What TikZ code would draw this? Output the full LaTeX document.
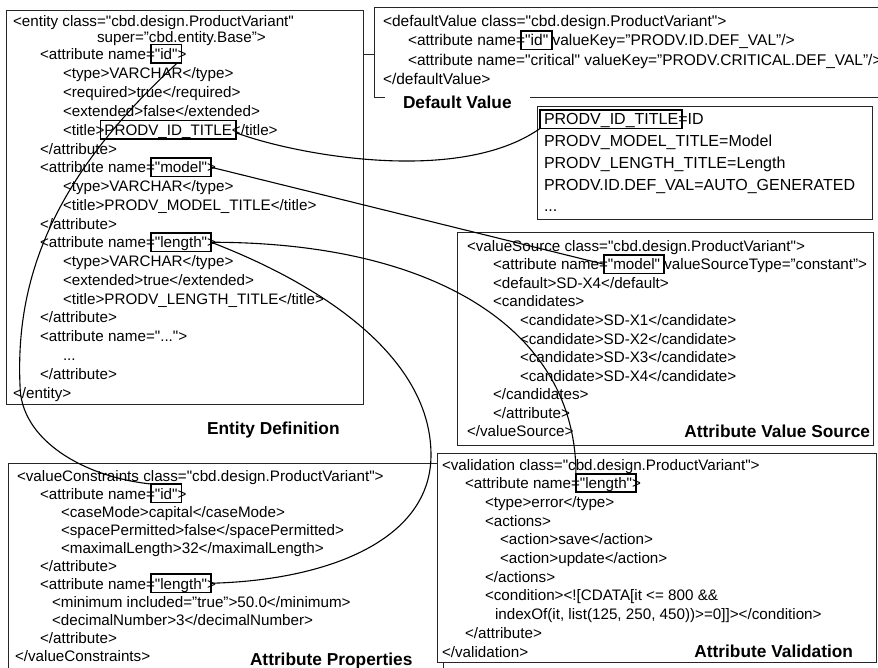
\documentclass[tikz,border=0pt]{standalone}
\usepackage{fontspec}
\newfontfamily\codefam{Liberation Sans}
\newcommand\codefont{\codefam\fontsize{15.2}{18}\selectfont}
\newcommand\dfltfont{\codefam\fontsize{15.5}{18}\selectfont}
\newcommand\keyfont{\codefam\fontsize{16}{20}\selectfont}
\newcommand\capfont{\codefam\bfseries\fontsize{17.3}{20}\selectfont}

\begin{document}
\begin{tikzpicture}[x=1pt, y=-1pt,
  txt/.style={anchor=base west, inner sep=0pt, outer sep=0pt, font=\codefont},
  hl/.style={draw, line width=1.8pt, anchor=base west, inner xsep=4pt, inner ysep=1.5pt,
             text height=13.5pt, text depth=2pt, outer sep=0pt, xshift=-4pt, font=\codefont},
  after/.style={txt, xshift=-4pt},
  panel/.style={draw=black!85, line width=0.9pt, inner sep=0pt, outer sep=0pt, anchor=north west},
  caption/.style={font=\capfont, inner sep=0pt, outer sep=0pt},
  link/.style={line width=1.1pt}]
\useasboundingbox (0,0) rectangle (878,668);
\clip (0,0) rectangle (878,668);

% ---------- panels ----------
\node[panel, minimum width=357pt, minimum height=394pt] (entity) at (6,10) {};
\node[panel, minimum width=540pt, minimum height=90pt] (dflt) at (374,7) {};
\node[panel, minimum width=335pt, minimum height=113pt] (keys) at (537,106) {};
\node[panel, minimum width=416pt, minimum height=213pt] (vsrc) at (457,232) {};
\node[panel, minimum width=435pt, minimum height=250pt] (cons) at (8,463) {};
\node[panel, fill=white, minimum width=439pt, minimum height=209pt] (valid) at (437,453) {};

\coordinate (stub) at (0,54);
\draw[panel] (entity.east |- stub) -- (dflt.west |- stub);

% ---------- entity definition ----------
\node[txt] (e1) at (13,27) {<entity class="cbd.design.ProductVariant"};
\node[txt] (e2) at (97,43) {super=”cbd.entity.Base”>};
\node[txt] (e3) at (40,59.5) {<attribute name=};
\node[hl] (eid) at (e3.base east) {"id"};
\node[after] (e3b) at (eid.base east) {>};
\node[txt] (e4) at (63,78.5) {<type>VARCHAR</type>};
\node[txt] (e5) at (63,97.5) {<required>true</required>};
\node[txt] (e6) at (63,116.5) {<extended>false</extended>};
\node[txt] (e7) at (63,135.5) {<title>};
\node[hl] (et) at (e7.base east) {PRODV\_ID\_TITLE};
\node[after] (e7b) at (et.base east) {</title>};
\node[txt] (e8) at (40,154.25) {</attribute>};
\node[txt] (e9) at (40,173) {<attribute name=};
\node[hl] (emdl) at (e9.base east) {"model"};
\node[after] (e9b) at (emdl.base east) {>};
\node[txt] (e10) at (63,191.75) {<type>VARCHAR</type>};
\node[txt] (e11) at (63,210.5) {<title>PRODV\_MODEL\_TITLE</title>};
\node[txt] (e12) at (40,229.25) {</attribute>};
\node[txt] (e13) at (40,248) {<attribute name=};
\node[hl] (elen) at (e13.base east) {"length"};
\node[after] (e13b) at (elen.base east) {>};
\node[txt] (e14) at (63,266.75) {<type>VARCHAR</type>};
\node[txt] (e15) at (63,285.5) {<extended>true</extended>};
\node[txt] (e16) at (63,304.25) {<title>PRODV\_LENGTH\_TITLE</title>};
\node[txt] (e17) at (40,323) {</attribute>};
\node[txt] (e18) at (40,341.75) {<attribute name="...">};
\node[txt] (e19) at (63,360.5) {...};
\node[txt] (e20) at (40,379.25) {</attribute>};
\node[txt] (e21) at (13,398) {</entity>};

% ---------- default value ----------
\node[txt, font=\dfltfont] (d1) at (383,26.5) {<defaultValue class="cbd.design.ProductVariant">};
\node[txt, font=\dfltfont] (d2) at (408,46) {<attribute name=};
\node[hl, font=\dfltfont] (did) at (d2.base east) {"id"};
\node[after, font=\dfltfont] (d2b) at (did.base east) {\ valueKey=”PRODV.ID.DEF\_VAL”/>};
\node[txt, font=\dfltfont] (d3) at (408,65.5) {<attribute name="critical" valueKey=”PRODV.CRITICAL.DEF\_VAL”/>};
\node[txt, font=\dfltfont] (d4) at (383,85) {</defaultValue>};

% ---------- resource keys ----------
\node[hl, font=\keyfont] (kid) at (544,125) {PRODV\_ID\_TITLE};
\node[after, font=\keyfont] (k1b) at (kid.base east) {=ID};
\node[txt, font=\keyfont] (k2) at (544,146.7) {PRODV\_MODEL\_TITLE=Model};
\node[txt, font=\keyfont] (k3) at (544,168.4) {PRODV\_LENGTH\_TITLE=Length};
\node[txt, font=\keyfont] (k4) at (544,190.1) {PRODV.ID.DEF\_VAL=AUTO\_GENERATED};
\node[txt, font=\keyfont] (k5) at (544,211.8) {...};

% ---------- value source ----------
\node[txt] (v1) at (467,251.5) {<valueSource class="cbd.design.ProductVariant">};
\node[txt] (v2) at (493,270) {<attribute name=};
\node[hl] (vmdl) at (v2.base east) {"model"};
\node[after] (v2b) at (vmdl.base east) {\ valueSourceType=”constant”>};
\node[txt] (v3) at (493,288.5) {<default>SD-X4</default>};
\node[txt] (v4) at (493,307) {<candidates>};
\node[txt] (v5) at (520,325.5) {<candidate>SD-X1</candidate>};
\node[txt] (v6) at (520,344) {<candidate>SD-X2</candidate>};
\node[txt] (v7) at (520,362.5) {<candidate>SD-X3</candidate>};
\node[txt] (v8) at (520,381) {<candidate>SD-X4</candidate>};
\node[txt] (v9) at (493,399.5) {</candidates>};
\node[txt] (v10) at (493,418) {</attribute>};
\node[txt] (v11) at (467,436.5) {</valueSource>};

% ---------- value constraints ----------
\node[txt] (c1) at (17,481) {<valueConstraints class="cbd.design.ProductVariant">};
\node[txt] (c2) at (40,499) {<attribute name=};
\node[hl] (cid) at (c2.base east) {"id"};
\node[after] (c2b) at (cid.base east) {>};
\node[txt] (c3) at (61,517) {<caseMode>capital</caseMode>};
\node[txt] (c4) at (61,535) {<spacePermitted>false</spacePermitted>};
\node[txt] (c5) at (61,553) {<maximalLength>32</maximalLength>};
\node[txt] (c6) at (40,571) {</attribute>};
\node[txt] (c7) at (40,589) {<attribute name=};
\node[hl] (clen) at (c7.base east) {"length"};
\node[after] (c7b) at (clen.base east) {>};
\node[txt] (c8) at (52,607) {<minimum included=”true”>50.0</minimum>};
\node[txt] (c9) at (52,625) {<decimalNumber>3</decimalNumber>};
\node[txt] (c10) at (40,643) {</attribute>};
\node[txt] (c11) at (15,661) {</valueConstraints>};

% ---------- validation ----------
\node[txt] (a1) at (442,470) {<validation class="cbd.design.ProductVariant">};
\node[txt] (a2) at (465,488.7) {<attribute name=};
\node[hl] (vlen) at (a2.base east) {"length"};
\node[after] (a2b) at (vlen.base east) {>};
\node[txt] (a3) at (485,507.4) {<type>error</type>};
\node[txt] (a4) at (485,526.1) {<actions>};
\node[txt] (a5) at (500,544.8) {<action>save</action>};
\node[txt] (a6) at (500,563.5) {<action>update</action>};
\node[txt] (a7) at (485,582.2) {</actions>};
\node[txt] (a8) at (485,600.9) {<condition><![CDATA[it <= 800 \&\&};
\node[txt] (a9) at (495,619.6) {indexOf(it, list(125, 250, 450))>=0]]></condition>};
\node[txt] (a10) at (465,638.3) {</attribute>};
\node[txt] (a11) at (442,657) {</validation>};

% ---------- captions ----------
\node[caption, anchor=base west] (capE) at (207,434) {Entity Definition};
\node[caption, anchor=base west, fill=white, inner xsep=18pt, inner ysep=3pt] (capD) at (385,109) {Default Value};
\node[caption, anchor=base east] (capS) at (870,437) {Attribute Value Source};
\node[caption, anchor=base east] (capV) at (853,657) {Attribute Validation};
\node[caption, anchor=base west] (capP) at (250,665) {Attribute Properties};

% ---------- links between matching attributes ----------
\coordinate (idturn) at (20,385);
\coordinate (lenturn) at (431,455);
\draw[link] (eid.-40) .. controls +(-117,108) and +(-5,-115) .. (idturn)
            .. controls +(0,55) and +(-67,-7) .. (cid.north west);
\draw[link] ([yshift=-3pt]et.east) .. controls +(59,22) and +(-81,57) .. (kid.south west);
\draw[link] (emdl.east) -- (vmdl.west);
\draw[link] (elen.east) .. controls +(230,0) and +(0,-140) .. (vlen.north west);
\draw[link] (elen.east) .. controls +(117,45) and +(0,-95) .. (lenturn)
            .. controls +(0,85) and +(117,-3) .. (clen.east);
\end{tikzpicture}
\end{document}
